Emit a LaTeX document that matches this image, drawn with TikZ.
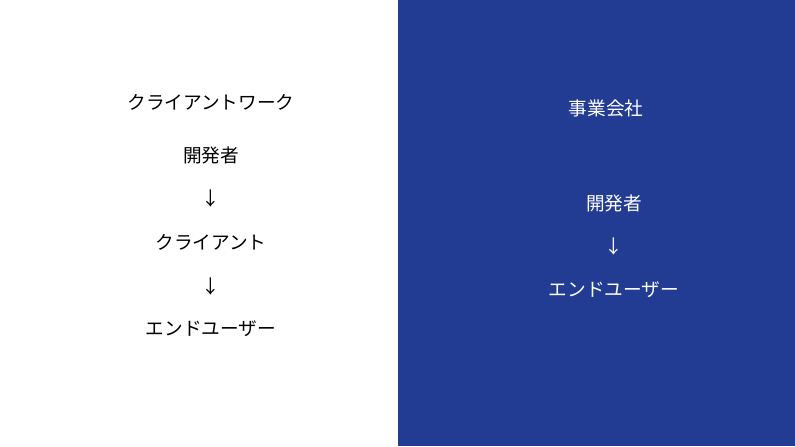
\documentclass[tikz,border=0pt]{standalone}
\usepackage{fontspec}
\newfontfamily\jpfont{Noto Sans CJK JP}
\definecolor{corpblue}{RGB}{33,60,146}
\tikzset{
	lbl/.style={anchor=center,inner sep=0.75pt,font=\jpfont\fontsize{14}{16}\selectfont},
	lblw/.style={lbl,text=white}
}
\begin{document}
\begin{tikzpicture}[x=0.75pt,y=0.75pt,yscale=-1,xscale=1]
	%set diagram size 795 x 446
	\useasboundingbox (0,0) rectangle (795,446);
	
	%Shape: Rectangle [id:blue panel]
	\fill [corpblue] (398,0) rectangle (795,446);
	
	% Text Node
	\draw (211,102) node [lbl] (clientwork) {クライアントワーク};
	% Text Node
	\draw (211,155) node [lbl] (devL) {開発者};
	% Text Node
	\draw (211,198) node [lbl] (arrL1) {↓};
	% Text Node
	\draw (211,242) node [lbl] (client) {クライアント};
	% Text Node
	\draw (211,286) node [lbl] (arrL2) {↓};
	% Text Node
	\draw (211,329) node [lbl] (userL) {エンドユーザー};
	
	% Text Node
	\draw (606,108) node [lblw] (company) {事業会社};
	% Text Node
	\draw (614,203) node [lblw] (devR) {開発者};
	% Text Node
	\draw (614,246) node [lblw] (arrR) {↓};
	% Text Node
	\draw (614,290) node [lblw] (userR) {エンドユーザー};
\end{tikzpicture}
\end{document}
